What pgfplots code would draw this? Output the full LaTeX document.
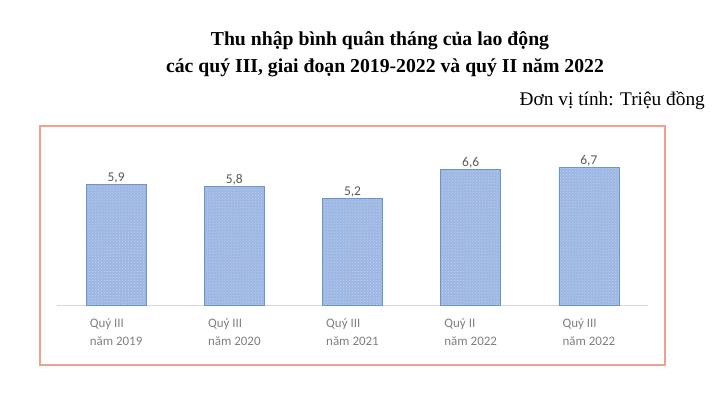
\documentclass[border=0pt]{standalone}
\usepackage{fontspec}
\setmainfont{Liberation Serif}
\newfontfamily\calib{Carlito}
\usepackage{pgfplots}
\pgfplotsset{compat=1.18}
\usetikzlibrary{patterns}

\definecolor{barfill}{HTML}{9BB6E2}
\definecolor{barline}{HTML}{6C94CF}
\definecolor{framecol}{HTML}{F0A08E}
\definecolor{lblgray}{HTML}{595959}
\definecolor{catgray}{HTML}{7F7F7F}
\definecolor{basegray}{HTML}{D9D9D9}

\begin{document}
\begin{tikzpicture}[x=1bp,y=1bp]
\path[use as bounding box] (0,0) rectangle (720,412);

% title and unit
\node[font=\fontsize{19.8}{22}\selectfont\bfseries] at (380,371) {Thu nhập bình quân tháng của lao động};
\node[font=\fontsize{19.8}{22}\selectfont\bfseries] at (385,344) {các quý III, giai đoạn 2019-2022 và quý II năm 2022};
\node[font=\fontsize{19.4}{22}\selectfont, anchor=east, inner sep=0pt] at (705,311) {Đơn vị tính: Triệu đồng};

% frame
\draw[framecol, line width=2.2bp] (40,47) rectangle (665,286);

\begin{axis}[
    at={(57bp,107bp)}, anchor=south west,
    scale only axis,
    width=591bp, height=153.75bp,
    xmin=-0.5, xmax=4.5,
    ymin=0, ymax=7.5,
    axis x line*=bottom,
    axis y line=none,
    x axis line style={draw=basegray, line width=1bp, -},
    xtick=data,
    major tick length=0pt,
    xticklabels={{Quý III\\năm 2019},{Quý III\\năm 2020},{Quý III\\năm 2021},{Quý II\\năm 2022},{Quý III\\năm 2022}},
    xticklabel style={font=\calib\fontsize{13}{18}\selectfont, text=catgray, align=left, yshift=-10bp},
    ybar, bar width=60bp,
    nodes near coords,
    nodes near coords style={font=\calib\fontsize{13.5}{16}\selectfont, text=lblgray, inner sep=0.8bp},
    /pgf/number format/.cd, fixed, precision=1, fixed zerofill, use comma, assume math mode=true,
]
\addplot[fill=barfill, draw=barline, line width=0.8bp,
    postaction={pattern=crosshatch dots, pattern color=white!45!barfill}]
    coordinates {(0,5.9)(1,5.8)(2,5.2)(3,6.6)(4,6.7)};
\end{axis}
\end{tikzpicture}
\end{document}
